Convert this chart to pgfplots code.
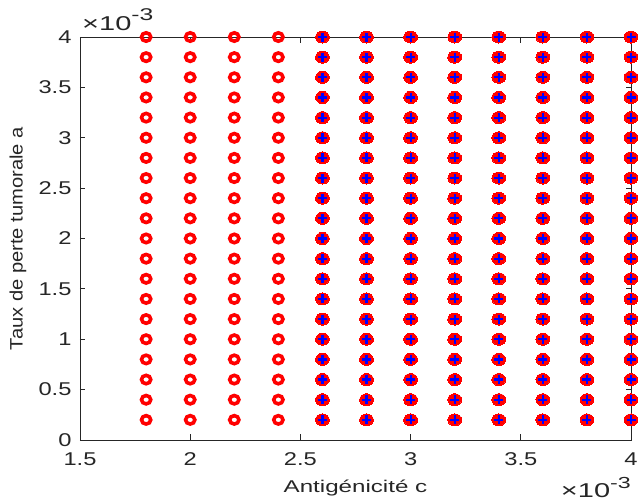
\documentclass[border=0pt]{standalone}
\usepackage{pgfplots}
\pgfplotsset{compat=1.18}
\usepackage{fontspec}
\setmainfont{Liberation Sans}
\newfontfamily\tickfont[FakeStretch=1.28]{Liberation Sans}
\newfontfamily\xlabfont[FakeStretch=1.42]{Liberation Sans}
\newfontfamily\ylabfont[FakeStretch=1.12]{Liberation Sans}
\newfontfamily\multfont[FakeStretch=1.45]{Liberation Sans}
\definecolor{axgray}{RGB}{38,38,38}
\definecolor{mred}{RGB}{255,0,0}
\definecolor{mblue}{RGB}{0,0,255}
\begin{document}
\begin{tikzpicture}
\path[use as bounding box] (-80pt,-61pt) rectangle (558pt,440pt);
\begin{axis}[
  at={(0pt,0pt)}, anchor=origin,
  scale only axis, width=551pt, height=403pt,
  xmin=1.5, xmax=4, ymin=0, ymax=4,
  xtick={1.5,2,2.5,3,3.5,4},
  ytick={0,0.5,1,1.5,2,2.5,3,3.5,4},
  xticklabels={1.5,2,2.5,3,3.5,4},
  yticklabels={0,0.5,1,1.5,2,2.5,3,3.5,4},
  tick align=inside, major tick length=5.5pt,
  axis line style={axgray, line width=0.9pt},
  tick style={axgray, line width=0.9pt},
  ticklabel style={font=\tickfont\fontsize{18.5}{22}\selectfont, text=axgray},
  xticklabel style={yshift=-9pt},
  yticklabel style={xshift=-5pt},
  xlabel={Antigénicité c},
  ylabel={Taux de perte tumorale a},
  xlabel style={font=\xlabfont\fontsize{17}{20}\selectfont, text=axgray, at={(rel axis cs:0.5,0)}, anchor=center, yshift=-48pt},
  ylabel style={font=\ylabfont\fontsize{18}{21}\selectfont, text=axgray, at={(rel axis cs:0,0.5)}, anchor=center, yshift=62pt},
  clip=false,
]
% hollow circles (c = 1.8 ... 2.4)
\addplot[only marks, mark=o, mark size=4.2pt, mark options={mred, line width=3.6pt, xscale=1.1}] coordinates {
(1.8,0.2) (1.8,0.4) (1.8,0.6) (1.8,0.8) (1.8,1.0) (1.8,1.2) (1.8,1.4) (1.8,1.6) (1.8,1.8) (1.8,2.0) (1.8,2.2) (1.8,2.4) (1.8,2.6) (1.8,2.8) (1.8,3.0) (1.8,3.2) (1.8,3.4) (1.8,3.6) (1.8,3.8) (1.8,4.0)
(2.0,0.2) (2.0,0.4) (2.0,0.6) (2.0,0.8) (2.0,1.0) (2.0,1.2) (2.0,1.4) (2.0,1.6) (2.0,1.8) (2.0,2.0) (2.0,2.2) (2.0,2.4) (2.0,2.6) (2.0,2.8) (2.0,3.0) (2.0,3.2) (2.0,3.4) (2.0,3.6) (2.0,3.8) (2.0,4.0)
(2.2,0.2) (2.2,0.4) (2.2,0.6) (2.2,0.8) (2.2,1.0) (2.2,1.2) (2.2,1.4) (2.2,1.6) (2.2,1.8) (2.2,2.0) (2.2,2.2) (2.2,2.4) (2.2,2.6) (2.2,2.8) (2.2,3.0) (2.2,3.2) (2.2,3.4) (2.2,3.6) (2.2,3.8) (2.2,4.0)
(2.4,0.2) (2.4,0.4) (2.4,0.6) (2.4,0.8) (2.4,1.0) (2.4,1.2) (2.4,1.4) (2.4,1.6) (2.4,1.8) (2.4,2.0) (2.4,2.2) (2.4,2.4) (2.4,2.6) (2.4,2.8) (2.4,3.0) (2.4,3.2) (2.4,3.4) (2.4,3.6) (2.4,3.8) (2.4,4.0)
};
% filled circles (c = 2.6 ... 4.0)
\addplot[only marks, mark=*, mark size=6pt, mark options={mred, fill=mred, line width=0pt, xscale=1.15}] coordinates {
(2.6,0.2) (2.6,0.4) (2.6,0.6) (2.6,0.8) (2.6,1.0) (2.6,1.2) (2.6,1.4) (2.6,1.6) (2.6,1.8) (2.6,2.0) (2.6,2.2) (2.6,2.4) (2.6,2.6) (2.6,2.8) (2.6,3.0) (2.6,3.2) (2.6,3.4) (2.6,3.6) (2.6,3.8) (2.6,4.0)
(2.8,0.2) (2.8,0.4) (2.8,0.6) (2.8,0.8) (2.8,1.0) (2.8,1.2) (2.8,1.4) (2.8,1.6) (2.8,1.8) (2.8,2.0) (2.8,2.2) (2.8,2.4) (2.8,2.6) (2.8,2.8) (2.8,3.0) (2.8,3.2) (2.8,3.4) (2.8,3.6) (2.8,3.8) (2.8,4.0)
(3.0,0.2) (3.0,0.4) (3.0,0.6) (3.0,0.8) (3.0,1.0) (3.0,1.2) (3.0,1.4) (3.0,1.6) (3.0,1.8) (3.0,2.0) (3.0,2.2) (3.0,2.4) (3.0,2.6) (3.0,2.8) (3.0,3.0) (3.0,3.2) (3.0,3.4) (3.0,3.6) (3.0,3.8) (3.0,4.0)
(3.2,0.2) (3.2,0.4) (3.2,0.6) (3.2,0.8) (3.2,1.0) (3.2,1.2) (3.2,1.4) (3.2,1.6) (3.2,1.8) (3.2,2.0) (3.2,2.2) (3.2,2.4) (3.2,2.6) (3.2,2.8) (3.2,3.0) (3.2,3.2) (3.2,3.4) (3.2,3.6) (3.2,3.8) (3.2,4.0)
(3.4,0.2) (3.4,0.4) (3.4,0.6) (3.4,0.8) (3.4,1.0) (3.4,1.2) (3.4,1.4) (3.4,1.6) (3.4,1.8) (3.4,2.0) (3.4,2.2) (3.4,2.4) (3.4,2.6) (3.4,2.8) (3.4,3.0) (3.4,3.2) (3.4,3.4) (3.4,3.6) (3.4,3.8) (3.4,4.0)
(3.6,0.2) (3.6,0.4) (3.6,0.6) (3.6,0.8) (3.6,1.0) (3.6,1.2) (3.6,1.4) (3.6,1.6) (3.6,1.8) (3.6,2.0) (3.6,2.2) (3.6,2.4) (3.6,2.6) (3.6,2.8) (3.6,3.0) (3.6,3.2) (3.6,3.4) (3.6,3.6) (3.6,3.8) (3.6,4.0)
(3.8,0.2) (3.8,0.4) (3.8,0.6) (3.8,0.8) (3.8,1.0) (3.8,1.2) (3.8,1.4) (3.8,1.6) (3.8,1.8) (3.8,2.0) (3.8,2.2) (3.8,2.4) (3.8,2.6) (3.8,2.8) (3.8,3.0) (3.8,3.2) (3.8,3.4) (3.8,3.6) (3.8,3.8) (3.8,4.0)
(4.0,0.2) (4.0,0.4) (4.0,0.6) (4.0,0.8) (4.0,1.0) (4.0,1.2) (4.0,1.4) (4.0,1.6) (4.0,1.8) (4.0,2.0) (4.0,2.2) (4.0,2.4) (4.0,2.6) (4.0,2.8) (4.0,3.0) (4.0,3.2) (4.0,3.4) (4.0,3.6) (4.0,3.8) (4.0,4.0)
};
% blue plus markers (c = 2.6 ... 4.0)
\addplot[only marks, mark=+, mark size=4.5pt, mark options={mblue, line width=2.2pt}] coordinates {
(2.6,0.2) (2.6,0.4) (2.6,0.6) (2.6,0.8) (2.6,1.0) (2.6,1.2) (2.6,1.4) (2.6,1.6) (2.6,1.8) (2.6,2.0) (2.6,2.2) (2.6,2.4) (2.6,2.6) (2.6,2.8) (2.6,3.0) (2.6,3.2) (2.6,3.4) (2.6,3.6) (2.6,3.8) (2.6,4.0)
(2.8,0.2) (2.8,0.4) (2.8,0.6) (2.8,0.8) (2.8,1.0) (2.8,1.2) (2.8,1.4) (2.8,1.6) (2.8,1.8) (2.8,2.0) (2.8,2.2) (2.8,2.4) (2.8,2.6) (2.8,2.8) (2.8,3.0) (2.8,3.2) (2.8,3.4) (2.8,3.6) (2.8,3.8) (2.8,4.0)
(3.0,0.2) (3.0,0.4) (3.0,0.6) (3.0,0.8) (3.0,1.0) (3.0,1.2) (3.0,1.4) (3.0,1.6) (3.0,1.8) (3.0,2.0) (3.0,2.2) (3.0,2.4) (3.0,2.6) (3.0,2.8) (3.0,3.0) (3.0,3.2) (3.0,3.4) (3.0,3.6) (3.0,3.8) (3.0,4.0)
(3.2,0.2) (3.2,0.4) (3.2,0.6) (3.2,0.8) (3.2,1.0) (3.2,1.2) (3.2,1.4) (3.2,1.6) (3.2,1.8) (3.2,2.0) (3.2,2.2) (3.2,2.4) (3.2,2.6) (3.2,2.8) (3.2,3.0) (3.2,3.2) (3.2,3.4) (3.2,3.6) (3.2,3.8) (3.2,4.0)
(3.4,0.2) (3.4,0.4) (3.4,0.6) (3.4,0.8) (3.4,1.0) (3.4,1.2) (3.4,1.4) (3.4,1.6) (3.4,1.8) (3.4,2.0) (3.4,2.2) (3.4,2.4) (3.4,2.6) (3.4,2.8) (3.4,3.0) (3.4,3.2) (3.4,3.4) (3.4,3.6) (3.4,3.8) (3.4,4.0)
(3.6,0.2) (3.6,0.4) (3.6,0.6) (3.6,0.8) (3.6,1.0) (3.6,1.2) (3.6,1.4) (3.6,1.6) (3.6,1.8) (3.6,2.0) (3.6,2.2) (3.6,2.4) (3.6,2.6) (3.6,2.8) (3.6,3.0) (3.6,3.2) (3.6,3.4) (3.6,3.6) (3.6,3.8) (3.6,4.0)
(3.8,0.2) (3.8,0.4) (3.8,0.6) (3.8,0.8) (3.8,1.0) (3.8,1.2) (3.8,1.4) (3.8,1.6) (3.8,1.8) (3.8,2.0) (3.8,2.2) (3.8,2.4) (3.8,2.6) (3.8,2.8) (3.8,3.0) (3.8,3.2) (3.8,3.4) (3.8,3.6) (3.8,3.8) (3.8,4.0)
(4.0,0.2) (4.0,0.4) (4.0,0.6) (4.0,0.8) (4.0,1.0) (4.0,1.2) (4.0,1.4) (4.0,1.6) (4.0,1.8) (4.0,2.0) (4.0,2.2) (4.0,2.4) (4.0,2.6) (4.0,2.8) (4.0,3.0) (4.0,3.2) (4.0,3.4) (4.0,3.6) (4.0,3.8) (4.0,4.0)
};
\end{axis}
\node[anchor=base west, inner sep=0pt, text=axgray, font=\multfont\fontsize{20}{24}\selectfont] at (2pt,409pt) {×10\raisebox{10pt}{\fontsize{17}{17}\selectfont -3}};
\node[anchor=base east, inner sep=0pt, text=axgray, font=\multfont\fontsize{20}{24}\selectfont] at (551pt,-57pt) {×10\raisebox{9pt}{\fontsize{16}{16}\selectfont -3}};
\end{tikzpicture}
\end{document}
